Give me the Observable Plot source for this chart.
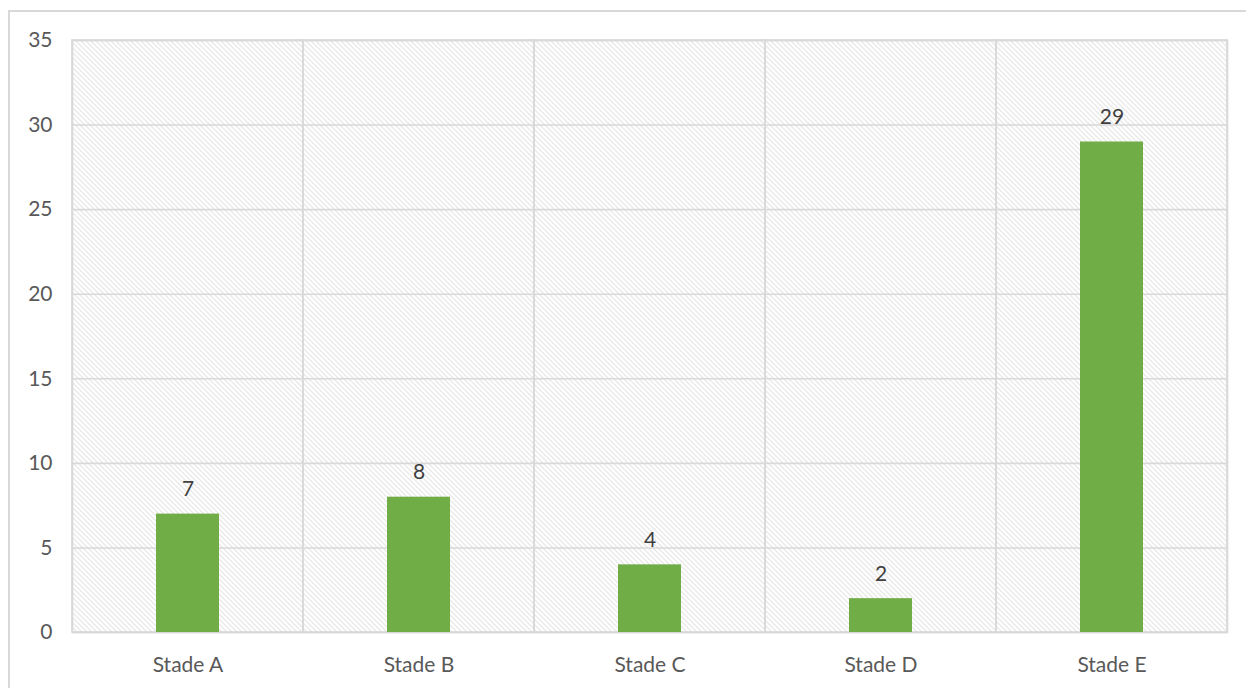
<!DOCTYPE html>
<html>
<head>
<meta charset="utf-8">
<script src="https://cdn.jsdelivr.net/npm/d3@7"></script>
<script src="https://cdn.jsdelivr.net/npm/@observablehq/plot@0.6"></script>
<style>
  html, body { margin: 0; padding: 0; background: #fff; overflow: hidden; }
  #chart { position: relative; width: 1246px; height: 688px; }
  #chart svg { display: block; }
  #border {
    position: absolute; left: 8px; top: 10px; width: 1400px; height: 800px;
    border: 2px solid #d9d9d9; pointer-events: none;
  }
</style>
</head>
<body>
<div id="chart"><div id="border"></div></div>
<script>
// Number of cases per stage
const stages = ["Stade A", "Stade B", "Stade C", "Stade D", "Stade E"];
const counts = [7, 8, 4, 2, 29];
const yTicks = [0, 5, 10, 15, 20, 25, 30, 35];

const data = stages.map((stage, i) => ({stage, count: counts[i]}));

const gridColor = "#d9d9d9";
const font = "Lato, Calibri, Carlito, 'Open Sans', sans-serif";

const svg = Plot.plot({
  width: 1246,
  height: 688,
  marginLeft: 72,
  marginRight: 19,
  marginTop: 40,
  marginBottom: 56,
  style: {fontFamily: font, fontSize: "21px", color: "#595959", background: "transparent"},
  x: {domain: stages, padding: 0, label: null},
  y: {domain: [0, 35], label: null},
  marks: [
    // hatched plot area
    Plot.frame({fill: "url(#hatch)", stroke: gridColor, strokeWidth: 1.6}),
    // horizontal gridlines
    Plot.gridY(yTicks, {stroke: gridColor, strokeOpacity: 1, strokeWidth: 1.6}),
    // vertical separators between categories
    Plot.barY(stages, {x: d => d, y1: 0, y2: 35, fill: "none", stroke: gridColor, strokeWidth: 1.6}),
    // bars
    Plot.barY(data, {x: "stage", y: "count", fill: "#70AD47", insetLeft: 84, insetRight: 84}),
    // value labels
    Plot.text(data, {
      x: "stage", y: "count", text: d => String(d.count),
      lineAnchor: "bottom", dy: -18, fontSize: 21, fill: "#404040"
    }),
    Plot.axisX({tickSize: 0, tickPadding: 25, fontSize: 21, fill: "#595959", label: null}),
    Plot.axisY(yTicks, {tickSize: 0, tickPadding: 20, fontSize: 21, fill: "#595959", label: null})
  ]
});

// diagonal hatch pattern for the plot background
const defs = d3.select(svg).insert("defs", ":first-child");
const pattern = defs.append("pattern")
  .attr("id", "hatch")
  .attr("patternUnits", "userSpaceOnUse")
  .attr("width", 5)
  .attr("height", 5);
pattern.append("rect").attr("width", 5).attr("height", 5).attr("fill", "#ffffff");
pattern.append("path")
  .attr("d", "M-1,-1 L6,6 M-1,4 L1,6 M4,-1 L6,1")
  .attr("stroke", "#d2d2d2")
  .attr("stroke-width", 1);

document.getElementById("chart").prepend(svg);
</script>
</body>
</html>
